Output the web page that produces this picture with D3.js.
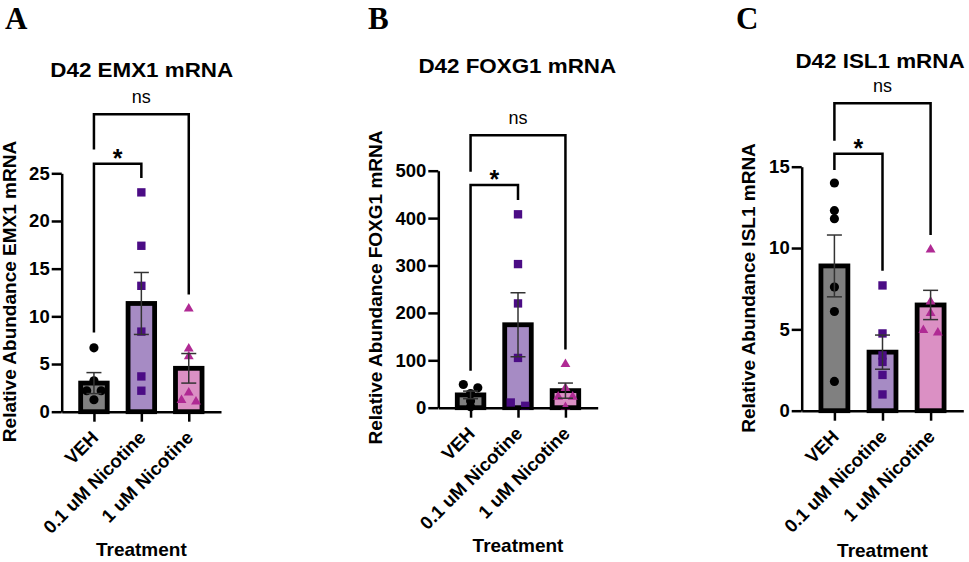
<!DOCTYPE html>
<html>
<head>
<meta charset="utf-8">
<script src="https://cdn.jsdelivr.net/npm/d3@7"></script>
<style>
  html, body { margin: 0; padding: 0; background: #fff; }
  svg { display: block; }
  text { font-family: "Liberation Sans", Arial, sans-serif; }
</style>
</head>
<body>
<svg id="chart" width="969" height="562"></svg>
<script>
// ---------------- DATA ----------------
const categories = ["VEH", "0.1 uM Nicotine", "1 uM Nicotine"];
const panelLetters = ["A", "B", "C"];
const titles = ["D42 EMX1 mRNA", "D42 FOXG1 mRNA", "D42 ISL1 mRNA"];
const yLabels = ["Relative Abundance EMX1 mRNA", "Relative Abundance FOXG1 mRNA", "Relative Abundance ISL1 mRNA"];
const xLabel = "Treatment";

const emx1Ticks = [0, 5, 10, 15, 20, 25];
const foxg1Ticks = [0, 100, 200, 300, 400, 500];
const isl1Ticks = [0, 5, 10, 15];

const emx1Means = [3.0, 11.35, 4.55];
const emx1Sems  = [1.1, 3.25, 1.55];
const emx1Points = [
  [6.7, 3.25, 2.2, 2.2, 1.25],
  [23.0, 17.4, 13.2, 8.4, 3.7, 2.2],
  [10.8, 6.6, 5.8, 2.0, 1.2, 1.05]
];

const foxg1Means = [27, 175, 36];
const foxg1Sems  = [8, 67.5, 16];
const foxg1Points = [
  [49, 42, 30, 14, 2],
  [408, 303, 220, 105, 11, 4],
  [92, 41, 23, 23, 1]
];

const isl1Means = [8.9, 3.6, 6.5];
const isl1Sems  = [1.9, 1.05, 0.9];
const isl1Points = [
  [14.0, 12.3, 11.8, 7.6, 6.1, 1.8],
  [7.7, 4.75, 3.4, 3.0, 2.2, 1.0],
  [9.9, 6.7, 6.0, 4.95, 4.8]
];

// significance brackets (levels in data units)
const emx1Sig = [
  {from: 0, to: 2, label: "ns", top: 31.2, leftEnd: 27.5, rightEnd: 12.3},
  {from: 0, to: 1, label: "*",  top: 26.0, leftEnd: 8.3,  rightEnd: 24.5}
];
const foxg1Sig = [
  {from: 0, to: 2, label: "ns", top: 575, leftEnd: 498, rightEnd: 123},
  {from: 0, to: 1, label: "*",  top: 470, leftEnd: 78,  rightEnd: 438}
];
const isl1Sig = [
  {from: 0, to: 2, label: "ns", top: 18.9, leftEnd: 16.6, rightEnd: 10.8},
  {from: 0, to: 1, label: "*",  top: 15.8, leftEnd: 14.8, rightEnd: 8.6}
];

// ---------------- STYLE / LAYOUT ----------------
const barFills = ["#808080", "#a68bc4", "#db90c4"];
const markerColors = ["#000000", "#4b0c85", "#b02a94"];
const markerShapes = [d3.symbolCircle, d3.symbolSquare, d3.symbolTriangle];
const markerSizes = [66, 70, 42];

const layout = [
  {x0: 61.7,  x1: 221,   yb: 411.7, yt: 173.3, letterX: 5,   titleX: 141.7, titleY: 77,   yLabX: 16,    yLabY: 291.5, treatY: 556},
  {x0: 438.3, x1: 597.7, yb: 407.7, yt: 170.7, letterX: 368, titleX: 517.3, titleY: 72.7, yLabX: 381.5, yLabY: 287.5, treatY: 552},
  {x0: 801.7, x1: 963.3, yb: 410.7, yt: 166.7, letterX: 736, titleX: 880,   titleY: 68.3, yLabX: 755,   yLabY: 288,   treatY: 556.5}
];

const panels = [
  {ticks: emx1Ticks,  means: emx1Means,  sems: emx1Sems,  points: emx1Points,  sig: emx1Sig},
  {ticks: foxg1Ticks, means: foxg1Means, sems: foxg1Sems, points: foxg1Points, sig: foxg1Sig},
  {ticks: isl1Ticks,  means: isl1Means,  sems: isl1Sems,  points: isl1Points,  sig: isl1Sig}
];

const svg = d3.select("#chart");

function spreadPoints(vals, y, spacing, thr) {
  const items = vals.map(v => ({v, py: y(v)})).sort((a, b) => a.py - b.py);
  const rows = [];
  items.forEach(it => {
    const row = rows[rows.length - 1];
    if (row && it.py - row[0].py < thr) row.push(it); else rows.push([it]);
  });
  rows.forEach(row => {
    const n = row.length;
    row.forEach((it, i) => { it.dx = (i - (n - 1) / 2) * spacing; });
  });
  return items;
}

panels.forEach((p, pi) => {
  const L = layout[pi];
  const g = svg.append("g");
  const yMax = p.ticks[p.ticks.length - 1];
  const y = d3.scaleLinear().domain([0, yMax]).range([L.yb, L.yt]);
  const x = d3.scalePoint().domain(categories).range([L.x0, L.x1]).padding(0.68);
  const step = x.step();
  const barW = step * 0.56;

  // panel letter
  g.append("text").attr("x", L.letterX).attr("y", 28.5)
    .style("font-family", "'Liberation Serif', 'Times New Roman', serif")
    .style("font-weight", "bold").style("font-size", "31px")
    .text(panelLetters[pi]);

  // title
  g.append("text")
    .attr("transform", `translate(${L.titleX},${L.titleY}) scale(1.12,1)`)
    .attr("text-anchor", "middle")
    .style("font-weight", "bold").style("font-size", "20px")
    .text(titles[pi]);

  // y label
  g.append("text")
    .attr("transform", `translate(${L.yLabX},${L.yLabY}) rotate(-90)`)
    .attr("text-anchor", "middle")
    .style("font-weight", "bold").style("font-size", "19px")
    .text(yLabels[pi]);

  // bars
  g.selectAll("rect.bar").data(categories).join("rect")
    .attr("class", "bar")
    .attr("x", d => x(d) - barW / 2)
    .attr("width", barW)
    .attr("y", (d, i) => y(p.means[i]))
    .attr("height", (d, i) => y(0) - y(p.means[i]))
    .attr("fill", (d, i) => barFills[i])
    .attr("stroke", "#000").attr("stroke-width", 4.8);

  // points
  categories.forEach((c, ci) => {
    const pts = spreadPoints(p.points[ci], y, 14.5, 5);
    g.selectAll(null).data(pts).join("path")
      .attr("d", d3.symbol().type(markerShapes[ci]).size(markerSizes[ci]))
      .attr("transform", d => `translate(${x(c) + d.dx},${d.py})`)
      .attr("fill", markerColors[ci]);
  });

  // error bars
  categories.forEach((c, ci) => {
    const cx = x(c), lo = y(p.means[ci] - p.sems[ci]), hi = y(p.means[ci] + p.sems[ci]);
    const eg = g.append("g").attr("stroke", "#333").attr("stroke-width", 1.5);
    eg.append("line").attr("x1", cx).attr("x2", cx).attr("y1", lo).attr("y2", hi);
    eg.append("line").attr("x1", cx - 7.5).attr("x2", cx + 7.5).attr("y1", hi).attr("y2", hi);
    eg.append("line").attr("x1", cx - 7.5).attr("x2", cx + 7.5).attr("y1", lo).attr("y2", lo);
  });

  // y axis
  const ya = g.append("g").attr("transform", `translate(${L.x0},0)`)
    .call(d3.axisLeft(y).tickValues(p.ticks).tickFormat(d3.format("d")).tickSize(10).tickSizeOuter(0).tickPadding(2));
  ya.select(".domain").attr("stroke", "#000").attr("stroke-width", 2.5);
  ya.selectAll(".tick line").attr("stroke", "#000").attr("stroke-width", 2.5);
  ya.selectAll(".tick text").attr("fill", "#000")
    .style("font-family", "'Liberation Sans', Arial, sans-serif")
    .style("font-weight", "bold").style("font-size", "18.5px");

  // x axis
  const xa = g.append("g").attr("transform", `translate(0,${L.yb})`)
    .call(d3.axisBottom(x).tickSize(10).tickSizeOuter(0));
  xa.select(".domain").attr("stroke", "#000").attr("stroke-width", 2.5);
  xa.selectAll(".tick line").attr("stroke", "#000").attr("stroke-width", 2.5);
  xa.selectAll(".tick text")
    .attr("x", 0).attr("y", 0).attr("dy", null)
    .attr("text-anchor", "end")
    .attr("transform", "translate(5,27) rotate(-45)")
    .attr("fill", "#000")
    .style("font-family", "'Liberation Sans', Arial, sans-serif")
    .style("font-weight", "bold").style("font-size", "18.5px");

  // x label
  g.append("text").attr("x", x(categories[1])).attr("y", L.treatY)
    .attr("text-anchor", "middle")
    .style("font-weight", "bold").style("font-size", "19px")
    .text(xLabel);

  // significance brackets
  p.sig.forEach(s => {
    const xl = x(categories[s.from]), xr = x(categories[s.to]);
    const yt = y(s.top);
    g.append("path")
      .attr("d", `M${xl},${y(s.leftEnd)} V${yt} H${xr} V${y(s.rightEnd)}`)
      .attr("fill", "none").attr("stroke", "#000").attr("stroke-width", 2.5);
    const t = g.append("text").attr("text-anchor", "middle").text(s.label);
    if (s.label === "ns") {
      t.attr("x", (xl + xr) / 2).attr("y", yt - 11).style("font-size", "18px");
    } else {
      t.attr("x", (xl + xr) / 2).attr("y", yt + 3).style("font-size", "25px").style("font-weight", "bold");
    }
  });
});
</script>
</body>
</html>
